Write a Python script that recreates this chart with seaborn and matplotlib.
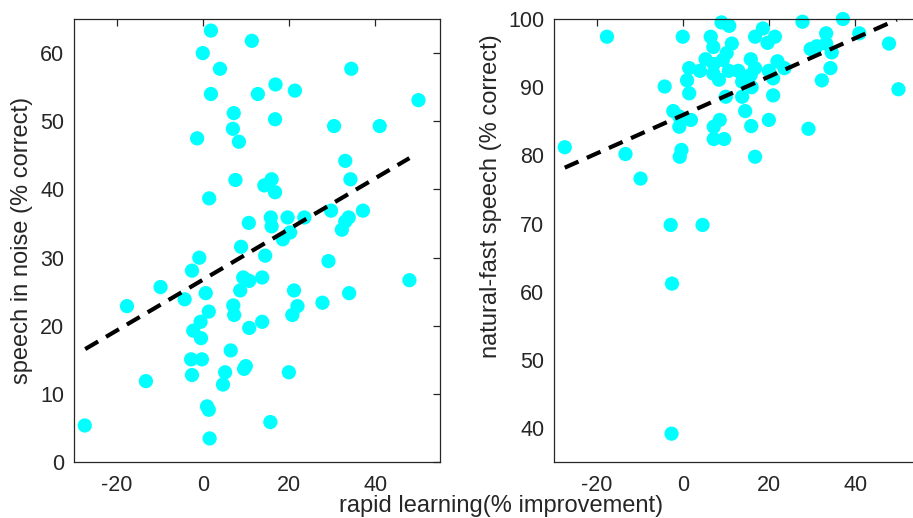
import numpy as np
import pandas as pd
import matplotlib
matplotlib.use("Agg")
import matplotlib.pyplot as plt
import seaborn as sns

# ---- data ----
left_x = [1.8, 11.3, -0.1, 3.9, 34.4, 1.8, 12.7, 16.8, 21.3, 50.0, 7.1, 16.7, 6.9, -1.4, 8.3,
          30.4, 41.0, 33.0, 34.2, 7.5, 14.2, 15.9, 16.7, 1.4, 10.6, 15.7, 15.9, 19.6, 23.5, 29.7,
          33.8, 33.0, 32.2, 37.1, 20.2, 18.5, 8.8, 14.4, -0.9, 29.1,
          -2.6, -9.9, -17.7, -4.3, 0.6, 9.3, 10.7, 13.7, 8.6, 7.0, 7.2, 1.3, -0.6, -2.3, -0.5,
          10.7, 13.7, 21.1, 21.9, 20.7, 27.7, 33.9, 47.9, 6.4, -2.8, -0.3, -2.6, -13.3, 5.1, 4.6,
          9.9, 9.5, 19.9, 0.9, 1.3, -27.5, 15.6, 1.5]
left_y = [63.3, 61.8, 60.0, 57.7, 57.7, 54.0, 54.0, 55.4, 54.5, 53.1, 51.2, 50.3, 48.9, 47.5, 47.0,
          49.3, 49.3, 44.2, 41.5, 41.4, 40.6, 41.5, 39.6, 38.7, 35.1, 35.9, 34.6, 35.9, 35.9, 36.9,
          35.9, 35.3, 34.1, 36.9, 33.7, 32.7, 31.6, 30.3, 30.0, 29.5,
          28.1, 25.7, 22.9, 23.9, 24.8, 27.1, 26.6, 27.1, 25.2, 23.0, 21.6, 22.1, 20.6, 19.3, 18.2,
          19.7, 20.6, 25.2, 22.9, 21.6, 23.4, 24.8, 26.7, 16.4, 15.1, 15.1, 12.8, 11.9, 13.2, 11.4,
          14.1, 13.7, 13.2, 8.2, 7.7, 5.4, 5.9, 3.5]

right_x = [-27.5, -17.7, -13.4, -9.9, -4.3, -2.9, 4.5, -0.1, 1.4, 0.9, 1.4, -2.3, -0.9, -0.9,
           1.8, -0.4, -0.8, 3.9, 5.2, 6.4, 7.0, 7.1, 7.0, 8.3, 8.9, 10.7, 11.3, 10.1, 9.2, 10.6,
           12.8, 9.9, 8.5, 7.1, 7.1, 9.5, 13.7, 13.7, 14.4, 15.8, 16.7, 15.7, 16.7, 15.7, 15.9,
           16.7, 18.5, 19.6, 21.3, 21.9, 19.9, 20.9, 23.5, 20.9, 19.9, 27.7, 29.1, 29.6, 31.0,
           33.2, 33.2, 34.5, 34.2, 32.2, 37.1, 40.9, 47.8, 50.0, -2.6, -2.7]
right_y = [81.2, 97.4, 80.2, 76.6, 90.1, 69.8, 69.8, 97.4, 92.8, 91.0, 89.1, 86.5, 85.7, 84.2,
           85.2, 80.8, 79.8, 92.4, 94.1, 97.4, 95.9, 93.4, 92.0, 91.1, 99.5, 99.0, 96.4, 95.0,
           94.0, 92.4, 92.4, 88.6, 85.2, 84.2, 82.4, 82.4, 90.8, 88.6, 86.5, 84.3, 79.8, 94.1,
           92.8, 91.8, 90.0, 97.4, 98.6, 96.5, 97.4, 93.8, 92.4, 91.3, 92.8, 88.8, 85.2, 99.6,
           83.9, 95.6, 96.0, 97.9, 96.4, 95.1, 92.8, 91.0, 100.0, 97.9, 96.4, 89.7, 61.2, 39.2]

# fitted trend lines (end points)
left_fit_x = [-27.4, 47.9]
left_fit_y = [16.6, 44.6]
right_fit_x = [-27.5, 49.6]
right_fit_y = [78.2, 99.9]

x_ticks = [-20, 0, 20, 40]
left_yticks = [0, 10, 20, 30, 40, 50, 60]
right_yticks = [40, 50, 60, 70, 80, 90, 100]

left_ylabel = "speech in noise (% correct)"
right_ylabel = "natural-fast speech (% correct)"
x_label = "rapid learning(% improvement)"

# ---- style ----
sns.set_style("white")
plt.rcParams["font.family"] = ["Liberation Sans", "DejaVu Sans"]
plt.rcParams["axes.unicode_minus"] = False
axcol = "#262626"

fig = plt.figure(figsize=(9.13, 5.18), dpi=100)
W, H = 913, 518
ax1 = fig.add_axes([74 / W, (H - 462.3) / H, 366 / W, 443.3 / H])
ax2 = fig.add_axes([554 / W, (H - 462.3) / H, 366 / W, 443.3 / H])

dfl = pd.DataFrame({"x": left_x, "y": left_y})
dfr = pd.DataFrame({"x": right_x, "y": right_y})

for ax, df, fx, fy, yt, ylim, ylab, lab_xy in [
    (ax1, dfl, left_fit_x, left_fit_y, left_yticks, (0, 65), left_ylabel, (-0.112, 0.50)),
    (ax2, dfr, right_fit_x, right_fit_y, right_yticks, (35, 100), right_ylabel, (-0.142, 0.60)),
]:
    sns.scatterplot(data=df, x="x", y="y", ax=ax, color="#00ffff", s=105,
                    edgecolor="none", linewidth=0, clip_on=False, zorder=2)
    sns.lineplot(x=fx, y=fy, ax=ax, color="black", linewidth=3.0,
                 dashes=False, zorder=3)
    ax.lines[-1].set_dashes((3.6, 2.2))
    ax.set_xlim(-30, 55)
    ax.set_ylim(*ylim)
    ax.set_xticks(x_ticks)
    ax.set_yticks(yt)
    ax.set_xlabel("")
    ax.set_ylabel(ylab, fontsize=17.0, color=axcol)
    ax.yaxis.set_label_coords(*lab_xy)
    ax.tick_params(direction="in", top=True, right=True, length=5, width=0.9,
                   colors=axcol, labelsize=15.5)
    ax.tick_params(axis="x", pad=9)
    ax.tick_params(axis="y", pad=7)
    for sp in ax.spines.values():
        sp.set_visible(True)
        sp.set_color(axcol)
        sp.set_linewidth(0.9)

fig.text(501 / W, 1 - 506 / H, x_label, ha="center", va="center",
         fontsize=17.0, color=axcol)

fig.savefig("out.png", dpi=100)
